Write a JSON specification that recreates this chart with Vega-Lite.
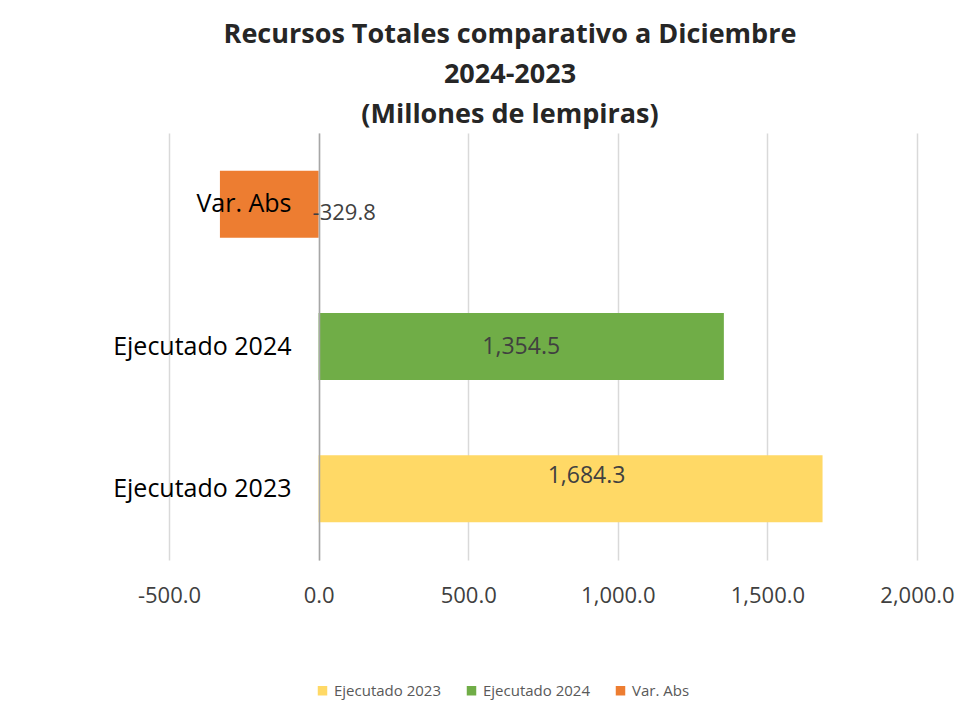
{
  "$schema": "https://vega.github.io/schema/vega-lite/v6.json",
  "width": 748,
  "height": 427,
  "autosize": {"type": "none"},
  "padding": {"left": 169, "top": 133, "right": 62, "bottom": 164},
  "background": "white",
  "title": {
    "text": ["Recursos Totales comparativo a Diciembre", "2024-2023", "(Millones de lempiras)"],
    "font": "Open Sans",
    "fontSize": 27,
    "fontWeight": "bold",
    "color": "#262626",
    "lineHeight": 40,
    "anchor": "middle",
    "frame": "group",
    "dx": -33,
    "offset": 4
  },
  "config": {"view": {"stroke": null}},
  "data": {
    "values": [
      {"categoria": "Ejecutado 2023", "valor": 1684.3},
      {"categoria": "Ejecutado 2024", "valor": 1354.5},
      {"categoria": "Var. Abs", "valor": -329.8}
    ]
  },
  "encoding": {
    "y": {
      "field": "categoria",
      "type": "nominal",
      "sort": ["Var. Abs", "Ejecutado 2024", "Ejecutado 2023"],
      "title": null,
      "axis": {
        "offset": -150,
        "labelFontSize": 25,
        "labelFont": "Open Sans",
        "labelColor": "#000000",
        "labelPadding": 28,
        "ticks": false,
        "domainColor": "#a6a6a6",
        "domainWidth": 1.5,
        "zindex": 1
      }
    }
  },
  "layer": [
    {
      "mark": {"type": "bar", "size": 67},
      "encoding": {
        "x": {
          "field": "valor",
          "type": "quantitative",
          "scale": {"domain": [-500, 2000], "nice": false},
          "title": null,
          "axis": {
            "values": [-500, 0, 500, 1000, 1500, 2000],
            "labelExpr": "replace(format(datum.value, ',.1f'), '\u2212', '-')",
            "labelFlush": false,
            "labelFontSize": 22,
            "labelFont": "Open Sans",
            "labelColor": "#404040",
            "labelPadding": 25,
            "ticks": false,
            "domain": false,
            "gridColor": "#d9d9d9",
            "gridWidth": 1.5
          }
        },
        "color": {
          "field": "categoria",
          "type": "nominal",
          "scale": {
            "domain": ["Ejecutado 2023", "Ejecutado 2024", "Var. Abs"],
            "range": ["#FFD966", "#70AD47", "#ED7D31"]
          },
          "legend": {
            "title": null,
            "orient": "none",
            "legendX": 146,
            "legendY": 550,
            "direction": "horizontal",
            "symbolType": "square",
            "symbolSize": 90,
            "symbolStrokeWidth": 0,
            "labelFontSize": 15,
            "labelFont": "Open Sans",
            "labelColor": "#595959",
            "columnPadding": 22
          }
        }
      }
    },
    {
      "transform": [
        {"filter": "datum.categoria == 'Ejecutado 2024'"},
        {"calculate": "datum.valor / 2", "as": "mitad"}
      ],
      "mark": {"type": "text", "fontSize": 23, "font": "Open Sans", "color": "#404040", "align": "center", "baseline": "middle"},
      "encoding": {
        "x": {"field": "mitad", "type": "quantitative"},
        "text": {"field": "valor", "type": "quantitative", "format": ",.1f"}
      }
    },
    {
      "transform": [
        {"filter": "datum.categoria == 'Ejecutado 2023'"},
        {"calculate": "datum.valor / 2", "as": "mitad"}
      ],
      "mark": {"type": "text", "fontSize": 23, "font": "Open Sans", "color": "#404040", "align": "center", "baseline": "middle", "dx": 16, "dy": -13},
      "encoding": {
        "x": {"field": "mitad", "type": "quantitative"},
        "text": {"field": "valor", "type": "quantitative", "format": ",.1f"}
      }
    },
    {
      "transform": [
        {"filter": "datum.valor < 0"},
        {"calculate": "replace(format(datum.valor, ',.1f'), '\u2212', '-')", "as": "etiqueta"}
      ],
      "mark": {"type": "text", "fontSize": 22, "font": "Open Sans", "color": "#404040", "align": "left", "baseline": "middle", "dx": -6, "dy": 9},
      "encoding": {
        "x": {"datum": 0, "type": "quantitative"},
        "text": {"field": "etiqueta", "type": "nominal"}
      }
    }
  ]
}
